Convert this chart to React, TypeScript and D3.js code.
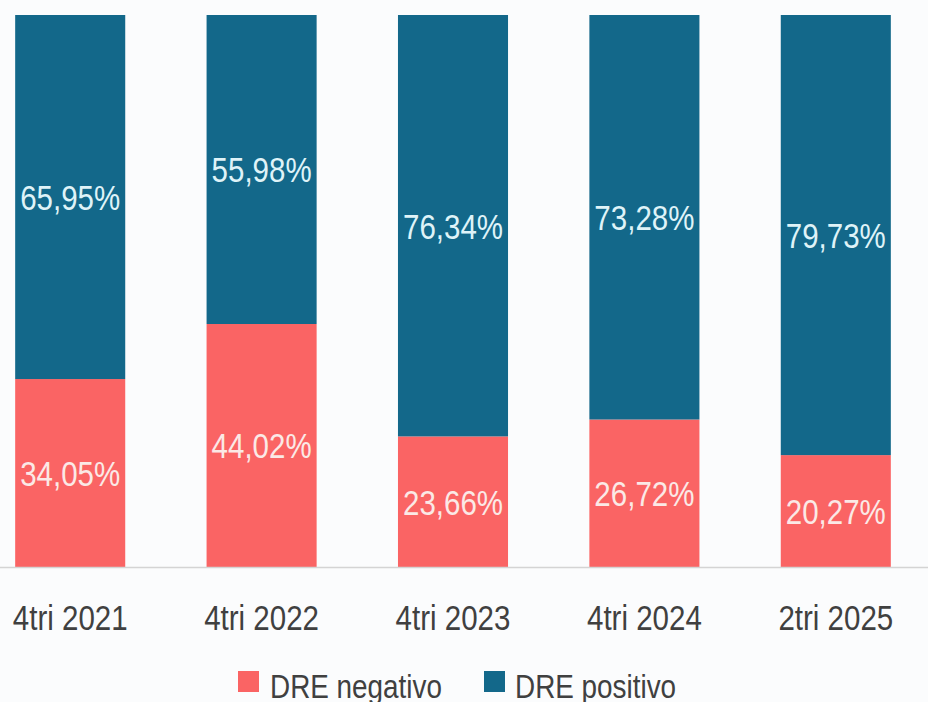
import React from "react";
import * as d3 from "d3";

const WIDTH = 928;
const HEIGHT = 702;

const periods = ["4tri 2021", "4tri 2022", "4tri 2023", "4tri 2024", "2tri 2025"];
const negativo = [34.05, 44.02, 23.66, 26.72, 20.27];
const positivo = [65.95, 55.98, 76.34, 73.28, 79.73];
const seriesNames = ["DRE negativo", "DRE positivo"];
const COLORS = ["#fa6464", "#13688a"];
const LABEL_COLORS = ["#fbe9e6", "#dff3f8"];

const FONT = "'Liberation Sans', Arial, sans-serif";
const SQUEEZE = 0.82;

// narrow text: regular font squeezed horizontally
function NText({ x, y, anchor = "start", size = 36, fill, dy, children }: any) {
  return (
    <text
      transform={`translate(${x},${y}) scale(${SQUEEZE},1)`}
      textAnchor={anchor}
      fontSize={size}
      fill={fill}
      dy={dy}
    >
      {children}
    </text>
  );
}

export default function App() {
  const rows = periods.map((p, i) => ({ period: p, neg: negativo[i], pos: positivo[i] }));

  const x = d3
    .scaleBand()
    .domain(periods)
    .range([-25.5, 931.5])
    .paddingInner(0.425)
    .paddingOuter(0.2125);

  const y = d3.scaleLinear().domain([0, 100]).range([567, 15]);

  const stack = d3.stack<any>().keys(["neg", "pos"]);
  const series = stack(rows);

  const fmt = (v: number) => v.toFixed(2).replace(".", ",") + "%";
  const cx = (p: string) => (x(p) || 0) + x.bandwidth() / 2;

  return (
    <svg
      width={WIDTH}
      height={HEIGHT}
      style={{ position: "absolute", left: 0, top: 0, background: "#fbfcfd" }}
      fontFamily={FONT}
    >
      {series.map((s, si) => (
        <g key={s.key} fill={COLORS[si]}>
          {s.map((d, i) => (
            <rect
              key={i}
              x={x(d.data.period)}
              y={y(d[1])}
              width={x.bandwidth()}
              height={y(d[0]) - y(d[1])}
            />
          ))}
        </g>
      ))}

      {series.map((s, si) => (
        <g key={s.key + "-lbl"}>
          {s.map((d, i) => (
            <NText
              key={i}
              x={cx(d.data.period)}
              y={(y(d[0]) + y(d[1])) / 2}
              dy="0.36em"
              anchor="middle"
              fill={LABEL_COLORS[si]}
            >
              {fmt(d[1] - d[0])}
            </NText>
          ))}
        </g>
      ))}

      <line x1={0} x2={WIDTH} y1={567.5} y2={567.5} stroke="#d4d4d4" strokeWidth={1.5} />

      <g>
        {periods.map((p) => (
          <NText key={p} x={cx(p)} y={630} anchor="middle" fill="#404040">
            {p}
          </NText>
        ))}
      </g>

      <g>
        <rect x={238} y={671} width={21} height={21} fill={COLORS[0]} />
        <NText x={270} y={698} size={34} fill="#404040">{seriesNames[0]}</NText>
        <rect x={484} y={671} width={21} height={21} fill={COLORS[1]} />
        <NText x={515} y={698} size={34} fill="#404040">{seriesNames[1]}</NText>
      </g>
    </svg>
  );
}
